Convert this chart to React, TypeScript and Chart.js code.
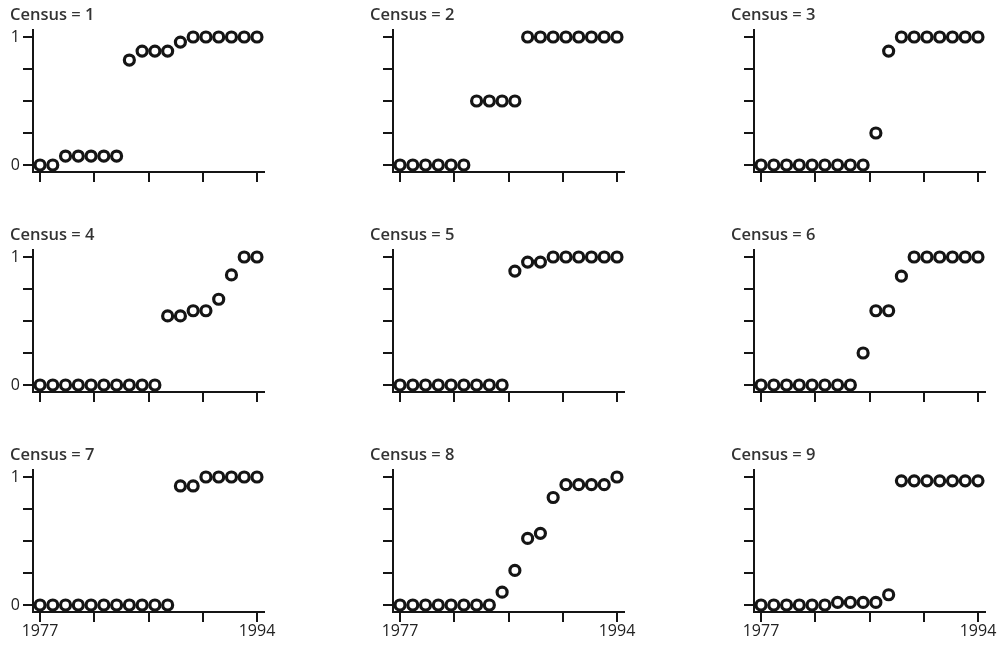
import React, { useEffect, useRef } from "react";
import { Chart, registerables } from "chart.js";

Chart.register(...registerables);

const years = [1977, 1978, 1979, 1980, 1981, 1982, 1983, 1984, 1985, 1986, 1987, 1988, 1989, 1990, 1991, 1992, 1993, 1994];
const xTickValues = [1977, 1981.25, 1985.5, 1989.75, 1994];
const xTickLabels = ["1977", "", "", "", "1994"];
const yTickValues = [0, 0.25, 0.5, 0.75, 1];
const yTickLabels = ["0", "", "", "", "1"];
const titles = ["Census = 1", "Census = 2", "Census = 3", "Census = 4", "Census = 5", "Census = 6", "Census = 7", "Census = 8", "Census = 9"];

const census1 = [0, 0, 0.07, 0.07, 0.07, 0.07, 0.07, 0.82, 0.89, 0.89, 0.89, 0.96, 1, 1, 1, 1, 1, 1];
const census2 = [0, 0, 0, 0, 0, 0, 0.5, 0.5, 0.5, 0.5, 1, 1, 1, 1, 1, 1, 1, 1];
const census3 = [0, 0, 0, 0, 0, 0, 0, 0, 0, 0.25, 0.89, 1, 1, 1, 1, 1, 1, 1];
const census4 = [0, 0, 0, 0, 0, 0, 0, 0, 0, 0, 0.54, 0.54, 0.58, 0.58, 0.67, 0.86, 1, 1];
const census5 = [0, 0, 0, 0, 0, 0, 0, 0, 0, 0.89, 0.96, 0.96, 1, 1, 1, 1, 1, 1];
const census6 = [0, 0, 0, 0, 0, 0, 0, 0, 0.25, 0.58, 0.58, 0.85, 1, 1, 1, 1, 1, 1];
const census7 = [0, 0, 0, 0, 0, 0, 0, 0, 0, 0, 0, 0.93, 0.93, 1, 1, 1, 1, 1];
const census8 = [0, 0, 0, 0, 0, 0, 0, 0, 0.1, 0.27, 0.52, 0.56, 0.84, 0.94, 0.94, 0.94, 0.94, 1];
const census9 = [0, 0, 0, 0, 0, 0, 0.02, 0.02, 0.02, 0.02, 0.08, 0.97, 0.97, 0.97, 0.97, 0.97, 0.97, 0.97];

const series = [census1, census2, census3, census4, census5, census6, census7, census8, census9];

const INK = "#151515";
const FONT = "'Open Sans'";

const colLefts = [0, 360, 721];
const rowTops = [0, 220, 440];
const CW = 281;
const CH = 209;

function Panel({ idx }: { idx: number }) {
  const ref = useRef<HTMLCanvasElement>(null);
  const col = idx % 3;
  const row = Math.floor(idx / 3);
  useEffect(() => {
    if (!ref.current) return;
    const values = series[idx];
    const showX = row === 2;
    const showY = col === 0;
    const chart = new Chart(ref.current, {
      type: "scatter",
      data: {
        datasets: [
          {
            data: years.map((y, i) => ({ x: y, y: values[i] })),
            pointRadius: 5,
            pointBorderWidth: 3.2,
            pointBackgroundColor: "#ffffff",
            pointBorderColor: INK,
            pointHoverRadius: 5,
            clip: false as any,
          },
        ],
      },
      options: {
        responsive: false,
        animation: false,
        events: [],
        layout: { padding: { left: 10, right: 17, top: 0, bottom: 0 } },
        plugins: {
          legend: { display: false },
          tooltip: { enabled: false },
          title: {
            display: true,
            text: titles[idx],
            align: "start",
            color: "#333",
            font: { family: FONT, size: 16.5, weight: "600", lineHeight: 1.1 },
            padding: { top: 6, bottom: 5.85 },
          },
        },
        scales: {
          x: {
            type: "linear",
            min: 1976.45,
            max: 1994.55,
            afterBuildTicks: (s: any) => {
              s.ticks = xTickValues.map((v) => ({ value: v }));
            },
            afterFit: (s: any) => {
              s.height = 37;
              s.paddingLeft = 0;
              s.paddingRight = 0;
            },
            ticks: {
              autoSkip: false,
              maxRotation: 0,
              padding: 0,
              color: "#222",
              font: { family: FONT, size: 16 },
              callback: (_v: any, i: number) => (showX ? xTickLabels[i] : ""),
            },
            grid: { drawOnChartArea: false, drawTicks: true, tickLength: 10, lineWidth: 2, color: INK },
            border: { display: true, width: 2, color: INK },
          },
          y: {
            type: "linear",
            min: -0.0547,
            max: 1.0547,
            afterBuildTicks: (s: any) => {
              s.ticks = yTickValues.map((v) => ({ value: v }));
            },
            afterFit: (s: any) => {
              s.width = 23;
              s.paddingTop = 0;
              s.paddingBottom = 0;
            },
            ticks: {
              autoSkip: false,
              padding: 3,
              color: "#222",
              font: { family: FONT, size: 16 },
              callback: (_v: any, i: number) => (showY ? yTickLabels[i] : ""),
            },
            grid: { drawOnChartArea: false, drawTicks: true, tickLength: 10, lineWidth: 2, color: INK },
            border: { display: true, width: 2, color: INK },
          },
        },
      },
    });
    return () => chart.destroy();
  }, [idx]);
  return (
    <canvas
      ref={ref}
      width={CW}
      height={CH}
      style={{ position: "absolute", left: colLefts[col], top: rowTops[row], width: CW, height: CH }}
    />
  );
}

export default function App() {
  return (
    <div style={{ position: "fixed", left: 0, top: 0, width: 1002, height: 649, background: "#fff", overflow: "hidden" }}>
      {titles.map((_, i) => (
        <Panel key={i} idx={i} />
      ))}
    </div>
  );
}
